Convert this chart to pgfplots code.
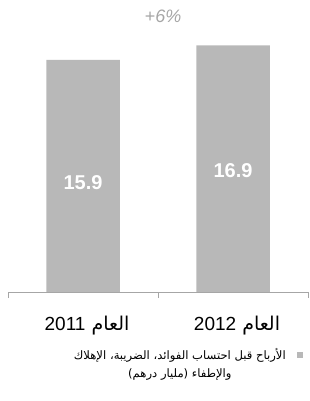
\documentclass[border=0pt]{standalone}
\usepackage{pgfplots}
\pgfplotsset{compat=1.18}
\usepackage{fontspec}
\setmainfont{Liberation Sans}
\newfontfamily\arabicfont[Script=Arabic]{DejaVu Sans}
\TeXXeTstate=1
\definecolor{barfill}{gray}{0.72}
\begin{document}
\begin{tikzpicture}[x=1pt,y=1pt]
\useasboundingbox (0,0) rectangle (310,401);
\node[font=\itshape\fontsize{18}{20}\selectfont, text=gray!70] at (163,385) {+6\%};
\begin{axis}[
  at={(8pt,109pt)}, anchor=south west,
  scale only axis, width=300pt, height=255.5pt,
  xmin=-0.5, xmax=1.5, ymin=0, ymax=17.5,
  axis y line=none, axis x line=bottom,
  axis line style={gray!70, -},
  xtick={-0.5,0.5,1.5}, xticklabel=\empty,
  tick style={gray!70}, major tick length=6pt, tick align=outside,
  ybar, bar width=0.49,
  clip=false,
  legend style={at={(1,0)}, anchor=north east, xshift=-5pt, yshift=-54pt,
    draw=none, fill=none, inner sep=0pt,
    font=\arabicfont\fontsize{11.6}{18}\selectfont,
    cells={align=center}},
  legend plot pos=right,
]
\addplot[fill=barfill, draw=none,
  legend image code/.code={\path[fill=none,draw=none] (0pt,5pt) rectangle (15pt,11pt); \fill[barfill] (9pt,5pt) rectangle (15pt,11pt);}]
  coordinates {(0,15.9) (1,16.9)};
\addlegendentry{\beginR الأرباح قبل احتساب الفوائد، الضريبة، الإهلاك\endR\\\beginR والإطفاء (مليار درهم)\endR}
\node[text=white, font=\bfseries\fontsize{20}{24}\selectfont] at (axis cs:0,7.5) {15.9};
\node[text=white, font=\bfseries\fontsize{20}{24}\selectfont] at (axis cs:1,8.3) {16.9};
\node[font=\fontsize{19}{21}\selectfont] at (axis cs:0,0) [yshift=-34pt, xshift=4pt] {\arabicfont\beginR العام \beginL{\rmfamily 2011}\endL\endR};
\node[font=\fontsize{19}{21}\selectfont] at (axis cs:1,0) [yshift=-34pt, xshift=4pt] {\arabicfont\beginR العام \beginL{\rmfamily 2012}\endL\endR};
\end{axis}
\end{tikzpicture}
\end{document}
